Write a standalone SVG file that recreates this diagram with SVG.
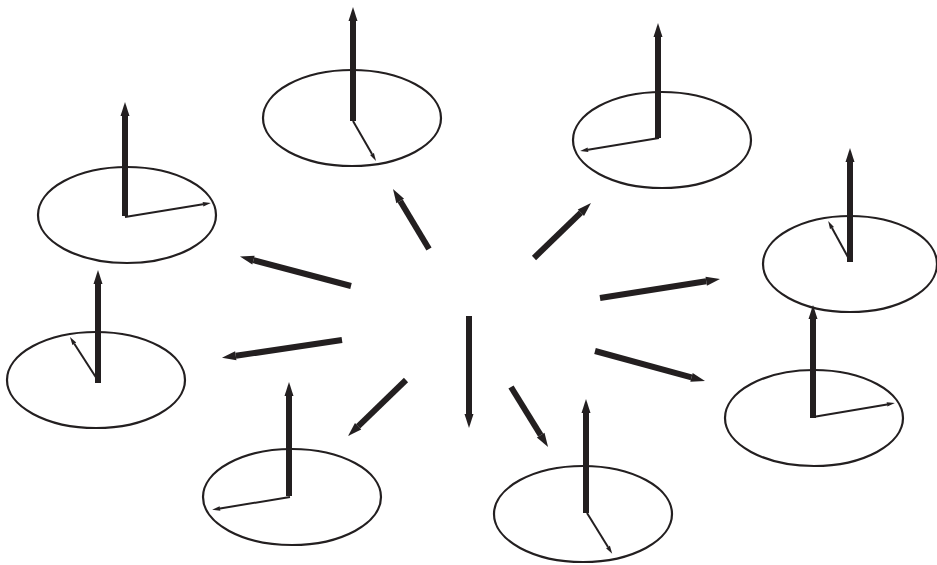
<svg xmlns="http://www.w3.org/2000/svg" width="937" height="565" viewBox="0 0 937 565">
<style>
.disc{fill:none;stroke:#231f20;stroke-width:2.2}
.thick{stroke:#231f20;stroke-width:6;fill:none;marker-end:url(#headThick)}
.thin{stroke:#231f20;stroke-width:2;fill:none;marker-end:url(#headThin)}
</style>
<defs>
<marker id="headThick" markerUnits="userSpaceOnUse" markerWidth="16" markerHeight="12" refX="0" refY="4.5" orient="auto" overflow="visible">
<path d="M0,0 L14,4.5 L0,9 z" fill="#231f20"/>
</marker>
<marker id="headThin" markerUnits="userSpaceOnUse" markerWidth="10" markerHeight="6" refX="0" refY="2.25" orient="auto" overflow="visible">
<path d="M0,0 L8,2.25 L0,4.5 z" fill="#231f20"/>
</marker>
</defs>
<rect width="937" height="565" fill="#ffffff"/>
<g id="node-top">
<ellipse class="disc" cx="352" cy="118" rx="89" ry="48"/>
<line class="thick" x1="353" y1="121" x2="353" y2="21"/>
<line class="thin" x1="353" y1="121" x2="372" y2="154"/>
</g>
<g id="node-upper-left">
<ellipse class="disc" cx="127" cy="215" rx="89" ry="48"/>
<line class="thick" x1="125" y1="216" x2="125" y2="116"/>
<line class="thin" x1="125" y1="217" x2="203" y2="204.3"/>
</g>
<g id="node-upper-right">
<ellipse class="disc" cx="662" cy="140" rx="89" ry="48"/>
<line class="thick" x1="658" y1="138" x2="658" y2="37"/>
<line class="thin" x1="659" y1="138" x2="588" y2="149.7"/>
</g>
<g id="node-right">
<ellipse class="disc" cx="850" cy="264" rx="87" ry="48"/>
<line class="thick" x1="850" y1="262" x2="850" y2="162"/>
<line class="thin" x1="849" y1="259" x2="832" y2="228"/>
</g>
<g id="node-lower-right">
<ellipse class="disc" cx="814" cy="418" rx="89" ry="48"/>
<line class="thick" x1="813" y1="418" x2="813" y2="319"/>
<line class="thin" x1="813" y1="417" x2="887" y2="404.4"/>
</g>
<g id="node-bottom">
<ellipse class="disc" cx="583" cy="514" rx="89" ry="48"/>
<line class="thick" x1="586" y1="513" x2="586" y2="413"/>
<line class="thin" x1="587" y1="513" x2="608" y2="547"/>
</g>
<g id="node-lower-left">
<ellipse class="disc" cx="292" cy="497" rx="89" ry="48"/>
<line class="thick" x1="289" y1="496" x2="289" y2="396"/>
<line class="thin" x1="290" y1="497" x2="220" y2="508.5"/>
</g>
<g id="node-left">
<ellipse class="disc" cx="96" cy="380" rx="89" ry="48"/>
<line class="thick" x1="98" y1="383" x2="98" y2="284"/>
<line class="thin" x1="97" y1="379" x2="74.3" y2="343.7"/>
</g>
<g id="connectors">
<line class="thick" x1="429" y1="249" x2="400.2" y2="201"/>
<line class="thick" x1="534" y1="258" x2="580.9" y2="212.7"/>
<line class="thick" x1="351" y1="286" x2="253.5" y2="260.2"/>
<line class="thick" x1="342" y1="340" x2="235.8" y2="355.8"/>
<line class="thick" x1="469" y1="316" x2="469" y2="414"/>
<line class="thick" x1="406" y1="380" x2="358.1" y2="426.3"/>
<line class="thick" x1="511" y1="387" x2="540.7" y2="435.1"/>
<line class="thick" x1="600" y1="298" x2="706.2" y2="281.2"/>
<line class="thick" x1="595" y1="351" x2="691.5" y2="377.3"/>
</g>
</svg>
